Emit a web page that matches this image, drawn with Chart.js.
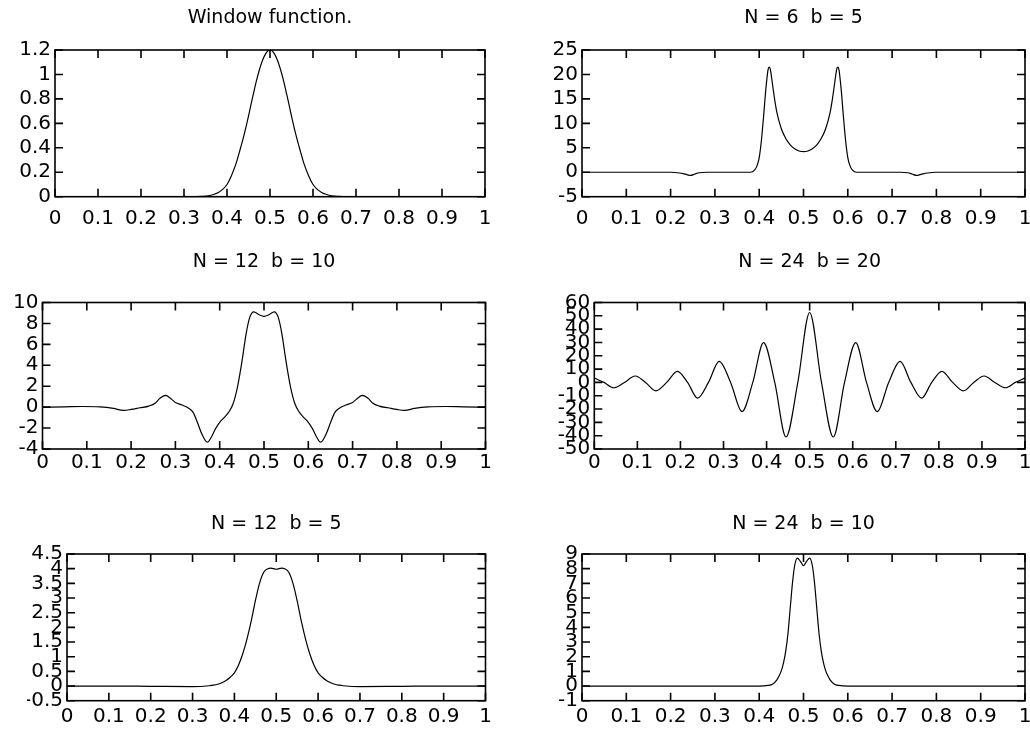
<!DOCTYPE html>
<html>
<head>
<meta charset="utf-8">
<title>Window function</title>
<script src="https://cdn.jsdelivr.net/npm/chart.js@4.4.1/dist/chart.umd.min.js"></script>
<style>
  html, body { margin: 0; padding: 0; background: #fff; }
  #page { position: relative; width: 1030px; height: 735px; }
  .plot { position: absolute; left: 0; top: 0; width: 1030px; height: 735px; }
</style>
</head>
<body>
<div id="page">
  <div class="plot"><canvas id="c1"></canvas></div>
  <div class="plot"><canvas id="c2"></canvas></div>
  <div class="plot"><canvas id="c3"></canvas></div>
  <div class="plot"><canvas id="c4"></canvas></div>
  <div class="plot"><canvas id="c5"></canvas></div>
  <div class="plot"><canvas id="c6"></canvas></div>
</div>
<script>
// x axis, shared by all six panels
const xTicks = [0, 0.1, 0.2, 0.3, 0.4, 0.5, 0.6, 0.7, 0.8, 0.9, 1];
const xTickLabels = ["0", "0.1", "0.2", "0.3", "0.4", "0.5", "0.6", "0.7", "0.8", "0.9", "1"];

// Window function.
const winX = [0, 0.1, 0.2, 0.3, 0.32, 0.34, 0.35, 0.36, 0.37, 0.38, 0.39, 0.4, 0.41, 0.42, 0.43, 0.44, 0.45, 0.46, 0.47, 0.48, 0.49,
  0.5, 0.51, 0.52, 0.53, 0.54, 0.55, 0.56, 0.57, 0.58, 0.59, 0.6, 0.61, 0.62, 0.63, 0.64, 0.65, 0.66, 0.68, 0.7, 0.8, 0.9, 1];
const winY = [0, 0, 0, 0, 0, 0.002, 0.005, 0.01, 0.02, 0.035, 0.06, 0.1, 0.17, 0.26, 0.38, 0.51, 0.66, 0.82, 0.97, 1.09, 1.17,
  1.2, 1.17, 1.09, 0.97, 0.82, 0.66, 0.51, 0.38, 0.26, 0.17, 0.1, 0.06, 0.035, 0.02, 0.01, 0.005, 0.002, 0, 0, 0, 0, 0];
const winYTicks = [0, 0.2, 0.4, 0.6, 0.8, 1, 1.2];
const winYLabels = ["0", "0.2", "0.4", "0.6", "0.8", "1", "1.2"];

// N = 6  b = 5
const n6b5X = [0, 0.1, 0.2, 0.22, 0.235, 0.245, 0.255, 0.265, 0.28, 0.3,
  0.38, 0.39, 0.395, 0.4, 0.405, 0.41, 0.415, 0.42, 0.4225, 0.425, 0.43, 0.435, 0.44, 0.45, 0.46, 0.47, 0.48, 0.49,
  0.5,
  0.51, 0.52, 0.53, 0.54, 0.55, 0.56, 0.565, 0.57, 0.575, 0.5775, 0.58, 0.585, 0.59, 0.595, 0.6, 0.605, 0.61, 0.62,
  0.7, 0.72, 0.735, 0.745, 0.755, 0.765, 0.78, 0.8, 0.9, 1];
const n6b5Y = [0, 0, 0, -0.15, -0.45, -0.65, -0.35, -0.1, 0, 0,
  0, 0.5, 1.3, 3.0, 6.5, 11.5, 17, 21, 21.5, 21.1, 18, 14.8, 12.2, 8.9, 6.9, 5.6, 4.8, 4.35,
  4.2,
  4.35, 4.8, 5.6, 6.9, 8.9, 12.2, 14.8, 18, 21.1, 21.5, 21, 17, 11.5, 6.5, 3.0, 1.3, 0.5, 0,
  0, 0, -0.1, -0.35, -0.65, -0.45, -0.15, 0, 0, 0];
const n6b5YTicks = [-5, 0, 5, 10, 15, 20, 25];
const n6b5YLabels = ["-5", "0", "5", "10", "15", "20", "25"];

// N = 12  b = 10
const n12b10X = [0, 0.05, 0.09, 0.13, 0.16, 0.183, 0.2, 0.22, 0.24, 0.255, 0.265, 0.278, 0.29, 0.3, 0.315, 0.33,
  0.34, 0.35, 0.36, 0.372, 0.382, 0.39, 0.4, 0.41, 0.42, 0.43, 0.44, 0.45, 0.46, 0.468, 0.477, 0.488,
  0.5,
  0.512, 0.523, 0.532, 0.54, 0.55, 0.56, 0.57, 0.58, 0.59, 0.6, 0.61, 0.618, 0.628, 0.64, 0.65, 0.66,
  0.67, 0.685, 0.7, 0.71, 0.722, 0.735, 0.745, 0.76, 0.78, 0.8, 0.817, 0.84, 0.87, 0.91, 0.95, 1];
const n12b10Y = [0, 0.03, 0.06, 0.02, -0.12, -0.31, -0.22, -0.06, 0.1, 0.4, 0.85, 1.13, 0.8, 0.45, 0.2, -0.1,
  -0.5, -1.5, -2.6, -3.35, -2.8, -2.1, -1.45, -1.0, -0.5, 0.3, 1.9, 4.3, 7.1, 8.6, 9.1, 8.85,
  8.68,
  8.85, 9.1, 8.6, 7.1, 4.3, 1.9, 0.3, -0.5, -1.0, -1.45, -2.1, -2.8, -3.35, -2.6, -1.5, -0.5,
  -0.1, 0.2, 0.45, 0.8, 1.13, 0.85, 0.4, 0.1, -0.06, -0.22, -0.31, -0.12, 0.02, 0.06, 0.03, 0];
const n12b10YTicks = [-4, -2, 0, 2, 4, 6, 8, 10];
const n12b10YLabels = ["-4", "-2", "0", "2", "4", "6", "8", "10"];

// N = 24  b = 20
const n24b20X = [0, 0.0225, 0.045, 0.07, 0.095, 0.119, 0.143, 0.168, 0.193, 0.2165, 0.24, 0.265, 0.29, 0.3165,
  0.343, 0.368, 0.393, 0.419, 0.445, 0.4725, 0.5, 0.5275, 0.555, 0.581, 0.607, 0.632, 0.657, 0.6835,
  0.71, 0.735, 0.76, 0.7835, 0.807, 0.832, 0.857, 0.881, 0.905, 0.93, 0.955, 0.9775, 1];
const n24b20Y = [3.3, 0, -4, 0, 4.8, 0, -6.3, 0, 8.3, 0, -11.8, 0, 15.8, 0,
  -21.9, 0, 29.9, 0, -41, 0, 52.5, 0, -41, 0, 29.9, 0, -21.9, 0,
  15.8, 0, -11.8, 0, 8.3, 0, -6.3, 0, 4.8, 0, -4, 0, 3.3];
const n24b20YTicks = [-50, -40, -30, -20, -10, 0, 10, 20, 30, 40, 50, 60];
const n24b20YLabels = ["-50", "-40", "-30", "-20", "-10", "0", "10", "20", "30", "40", "50", "60"];

// N = 12  b = 5
const n12b5X = [0, 0.1, 0.2, 0.3, 0.34, 0.35, 0.36, 0.37, 0.38, 0.39, 0.4, 0.41, 0.42, 0.43, 0.44, 0.45, 0.46, 0.47, 0.48,
  0.487, 0.5, 0.513,
  0.52, 0.53, 0.54, 0.55, 0.56, 0.57, 0.58, 0.59, 0.6, 0.61, 0.62, 0.63, 0.64, 0.65, 0.66, 0.7, 0.8, 0.9, 1];
const n12b5Y = [0, 0, -0.01, -0.02, 0.01, 0.03, 0.06, 0.11, 0.19, 0.3, 0.45, 0.72, 1.1, 1.6, 2.2, 2.9, 3.5, 3.88, 4.0,
  4.02, 3.98, 4.02,
  4.0, 3.88, 3.5, 2.9, 2.2, 1.6, 1.1, 0.72, 0.45, 0.3, 0.19, 0.11, 0.06, 0.03, 0.01, -0.02, -0.01, 0, 0];
const n12b5YTicks = [-0.5, 0, 0.5, 1, 1.5, 2, 2.5, 3, 3.5, 4, 4.5];
const n12b5YLabels = ["-0.5", "0", "0.5", "1", "1.5", "2", "2.5", "3", "3.5", "4", "4.5"];

// N = 24  b = 10
const n24b10X = [0, 0.1, 0.2, 0.3, 0.4, 0.42, 0.43, 0.44, 0.445, 0.45, 0.455, 0.46, 0.465, 0.47, 0.475, 0.48, 0.486, 0.493,
  0.5,
  0.507, 0.514, 0.52, 0.525, 0.53, 0.535, 0.54, 0.545, 0.55, 0.555, 0.56, 0.57, 0.58, 0.6, 0.7, 0.8, 0.9, 1];
const n24b10Y = [0, 0, 0, 0, 0, 0.04, 0.12, 0.42, 0.7, 1.05, 1.6, 2.4, 3.6, 5.3, 7.0, 8.2, 8.72, 8.5,
  8.2,
  8.5, 8.72, 8.2, 7.0, 5.3, 3.6, 2.4, 1.6, 1.05, 0.7, 0.42, 0.12, 0.04, 0, 0, 0, 0, 0];
const n24b10YTicks = [-1, 0, 1, 2, 3, 4, 5, 6, 7, 8, 9];
const n24b10YLabels = ["-1", "0", "1", "2", "3", "4", "5", "6", "7", "8", "9"];

const FONT = "'DejaVu Sans', 'Liberation Sans', sans-serif";
const TITLE_FS = 19;
const TICK_FS = 20;

// gnuplot style box with inward ticks on all four sides
const frameTicks = {
    id: "frameTicks",
    beforeDatasetsDraw(chart) {
        const { ctx, chartArea: a, scales } = chart;
        const len = 8;
        ctx.save();
        ctx.strokeStyle = "#000";
        ctx.lineWidth = 1.6;
        ctx.strokeRect(a.left, a.top, a.right - a.left, a.bottom - a.top);
        ctx.beginPath();
        scales.x.ticks.forEach(t => {
            const px = scales.x.getPixelForValue(t.value);
            ctx.moveTo(px, a.bottom);
            ctx.lineTo(px, a.bottom - len);
            ctx.moveTo(px, a.top);
            ctx.lineTo(px, a.top + len);
        });
        scales.y.ticks.forEach(t => {
            const py = scales.y.getPixelForValue(t.value);
            ctx.moveTo(a.left, py);
            ctx.lineTo(a.left + len, py);
            ctx.moveTo(a.right, py);
            ctx.lineTo(a.right - len, py);
        });
        ctx.stroke();
        ctx.restore();
    }
};

function makePanel(id, title, xs, ys, yTicks, yLabels, box) {
    const pts = xs.map((x, i) => ({ x: x, y: ys[i] }));
    const titleFont = { family: FONT, size: TITLE_FS, weight: "normal", lineHeight: 1 };
    const tickFont = { family: FONT, size: TICK_FS, weight: "normal", lineHeight: 1 };
    return new Chart(document.getElementById(id), {
        type: "line",
        data: {
            datasets: [{
                data: pts,
                borderColor: "#000",
                borderWidth: 1.2,
                pointRadius: 0,
                fill: false,
                cubicInterpolationMode: "monotone"
            }]
        },
        options: {
            responsive: true,
            maintainAspectRatio: false,
            animation: false,
            events: [],
            layout: {
                padding: {
                    left: box.l - 40,
                    right: 1030 - box.r,
                    top: box.titleY - TITLE_FS / 2,
                    bottom: 735 - box.b - 40
                }
            },
            plugins: {
                legend: { display: false },
                tooltip: { enabled: false },
                title: {
                    display: true,
                    text: title,
                    fullSize: false,
                    color: "#000",
                    font: titleFont,
                    padding: { top: 0, bottom: box.t - box.titleY - TITLE_FS / 2 }
                }
            },
            scales: {
                x: {
                    type: "linear",
                    min: 0,
                    max: 1,
                    afterBuildTicks: s => { s.ticks = xTicks.map(v => ({ value: v })); },
                    afterFit: s => { s.height = 40; s.paddingLeft = 0; s.paddingRight = 0; },
                    grid: { display: false, drawTicks: false },
                    border: { display: false },
                    ticks: {
                        autoSkip: false,
                        maxRotation: 0,
                        minRotation: 0,
                        color: "#000",
                        font: tickFont,
                        padding: box.xLabelY - box.b - TICK_FS / 2,
                        callback: (v, i) => xTickLabels[i]
                    }
                },
                y: {
                    type: "linear",
                    min: yTicks[0],
                    max: yTicks[yTicks.length - 1],
                    afterBuildTicks: s => { s.ticks = yTicks.map(v => ({ value: v })); },
                    afterFit: s => { s.width = 40; s.paddingTop = 0; s.paddingBottom = 0; },
                    grid: { display: false, drawTicks: false },
                    border: { display: false },
                    ticks: {
                        autoSkip: false,
                        color: "#000",
                        font: tickFont,
                        padding: 4,
                        callback: (v, i) => yLabels[i]
                    }
                }
            }
        },
        plugins: [frameTicks]
    });
}

makePanel("c1", "Window function.", winX, winY, winYTicks, winYLabels,
    { l: 55, r: 485, t: 50, b: 196.7, titleY: 18, xLabelY: 219 });
makePanel("c2", "N = 6  b = 5", n6b5X, n6b5Y, n6b5YTicks, n6b5YLabels,
    { l: 582, r: 1025, t: 50, b: 196.7, titleY: 18, xLabelY: 219 });
makePanel("c3", "N = 12  b = 10", n12b10X, n12b10Y, n12b10YTicks, n12b10YLabels,
    { l: 42.5, r: 485.5, t: 302.5, b: 449, titleY: 262, xLabelY: 463 });
makePanel("c4", "N = 24  b = 20", n24b20X, n24b20Y, n24b20YTicks, n24b20YLabels,
    { l: 594.3, r: 1025, t: 302.5, b: 449, titleY: 262, xLabelY: 463 });
makePanel("c5", "N = 12  b = 5", n12b5X, n12b5Y, n12b5YTicks, n12b5YLabels,
    { l: 67, r: 485.5, t: 554, b: 700.7, titleY: 524, xLabelY: 717 });
makePanel("c6", "N = 24  b = 10", n24b10X, n24b10Y, n24b10YTicks, n24b10YLabels,
    { l: 582, r: 1025, t: 554, b: 700.7, titleY: 524, xLabelY: 717 });
</script>
</body>
</html>
